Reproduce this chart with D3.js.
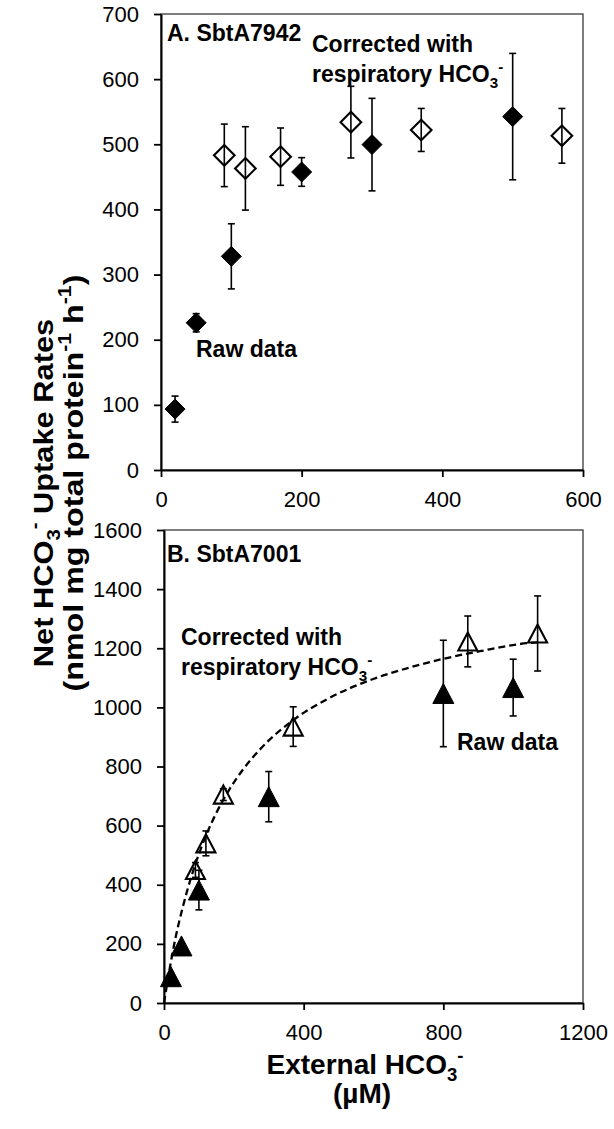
<!DOCTYPE html>
<html><head><meta charset="utf-8">
<script src="https://cdn.jsdelivr.net/npm/d3@7"></script>
<style>
body{margin:0;background:#fff}
svg{display:block}
text{font-family:"Liberation Sans",Arial,Helvetica,sans-serif;fill:#000}
</style>
</head><body>
<svg id="c" width="614" height="1129"></svg>
<script>
// ---------- DATA ----------
// Panel A: SbtA7942
const aRawX = [20, 50, 100, 200, 300, 500];
const aRawY = [93.5, 226, 328, 457.5, 499.5, 542.5];
const aRawErr = [20, 14, 50, 22, 71, 97];
const aCorX = [90, 120, 170, 270, 370, 570];
const aCorY = [483, 463, 481, 534, 522, 513];
const aCorErr = [48, 64, 44, 55, 33, 42];
const aXTicks = [0, 200, 400, 600];
const aYTicks = [0, 100, 200, 300, 400, 500, 600, 700];

// Panel B: SbtA7001
const bRawX = [20, 50, 100, 300, 800, 1000];
const bRawY = [89, 193, 382, 698, 1047, 1067];
const bRawErr = [8, 8, 67, 85, 180, 96];
const bCorX = [90, 120, 170, 370, 870, 1070];
const bCorY = [450, 540, 705, 935, 1223, 1250];
const bCorErr = [25, 42, 20, 67, 86, 127];
const bXTicks = [0, 400, 800, 1200];
const bYTicks = [0, 200, 400, 600, 800, 1000, 1200, 1400, 1600];
// dashed fit curve
const fitX = [0, 17, 32, 55, 79, 103, 127, 155, 184, 227, 275, 370, 466, 599, 704, 810, 905, 1039, 1070];
const fitY = [0, 121, 215, 330, 430, 514, 585, 655, 716, 791, 858, 957, 1027, 1096, 1135, 1167, 1190, 1217, 1220];

// ---------- DRAW ----------
const svg = d3.select("#c");
svg.append("rect").attr("width",614).attr("height",1129).attr("fill","#fff");

function rich(sel, parts, fs){
  // parts: [text, mode] mode: 0 normal, 1 sub, 2 sup
  let shift = 0;
  parts.forEach(([t, m]) => {
    const target = m===1 ? 0.25*fs : (m===2 ? -0.42*fs : 0);
    const ts = sel.append("tspan").text(t).attr("dy", target - shift);
    if (m) ts.attr("font-size", 0.66*fs);
    shift = target;
  });
}

function diamondPath(r){ return `M0,${-r}L${r},0L0,${r}L${-r},0Z`; }
function triPath(w,h){ return `M0,${-h/2}L${w/2},${h/2}L${-w/2},${h/2}Z`; }

function panel(cfg){
  const g = svg.append("g");
  const x = d3.scaleLinear().domain(cfg.xdom).range([cfg.left, cfg.right]);
  const y = d3.scaleLinear().domain(cfg.ydom).range([cfg.bottom, cfg.top]);
  g.append("rect").attr("x",cfg.left).attr("y",cfg.top)
    .attr("width",cfg.right-cfg.left).attr("height",cfg.bottom-cfg.top)
    .attr("fill","none").attr("stroke","#3a3a3a").attr("stroke-width",1.3);
  const ax = g.append("g").attr("transform",`translate(0,${cfg.bottom})`)
    .call(d3.axisBottom(x).tickValues(cfg.xticks).tickSize(7).tickSizeOuter(0).tickPadding(14).tickFormat(d3.format("d")));
  const ay = g.append("g").attr("transform",`translate(${cfg.left},0)`)
    .call(d3.axisLeft(y).tickValues(cfg.yticks).tickSize(7).tickSizeOuter(0).tickPadding(cfg.ypad).tickFormat(d3.format("d")));
  [ax, ay].forEach(a => {
    a.select(".domain").attr("stroke","#000").attr("stroke-width",2);
    a.selectAll(".tick line").attr("stroke","#000").attr("stroke-width",1.8);
    a.selectAll(".tick text").attr("font-size",22).attr("font-family",'"Liberation Sans",Arial,sans-serif').attr("fill","#000");
  });
  return {g, x, y};
}

function errorBars(p, xs, ys, es){
  const gg = p.g.append("g").attr("stroke","#000").attr("stroke-width",1.6);
  xs.forEach((xv,i) => {
    const cx = p.x(xv), t = p.y(ys[i]+es[i]), b = p.y(ys[i]-es[i]);
    gg.append("line").attr("x1",cx).attr("x2",cx).attr("y1",t).attr("y2",b);
    gg.append("line").attr("x1",cx-3.5).attr("x2",cx+3.5).attr("y1",t).attr("y2",t);
    gg.append("line").attr("x1",cx-3.5).attr("x2",cx+3.5).attr("y1",b).attr("y2",b);
  });
}

function markers(p, xs, ys, path, filled){
  p.g.append("g").selectAll("path").data(xs.map((v,i)=>[v,ys[i]])).join("path")
    .attr("d", path)
    .attr("transform", d => `translate(${p.x(d[0])},${p.y(d[1])})`)
    .attr("fill", filled ? "#000" : "none")
    .attr("stroke", "#000").attr("stroke-width", filled ? 1 : 2.1)
    .attr("stroke-linejoin","miter");
}

function label(g, x, y, parts, fs){
  const t = g.append("text").attr("x",x).attr("y",y).attr("font-size",fs).attr("font-weight","bold");
  rich(t, parts, fs);
  return t;
}

// ----- Panel A -----
const pA = panel({left:161, right:583, top:14, bottom:470, xdom:[0,600], ydom:[0,700],
  xticks:aXTicks, yticks:aYTicks, ypad:15});
errorBars(pA, aRawX, aRawY, aRawErr);
errorBars(pA, aCorX, aCorY, aCorErr);
markers(pA, aRawX, aRawY, diamondPath(10), true);
markers(pA, aCorX, aCorY, diamondPath(10.3), false);
label(pA.g, 167, 41, [["A. SbtA7942",0]], 23);
label(pA.g, 312, 52, [["Corrected with",0]], 23);
label(pA.g, 312, 82, [["respiratory HCO",0],["3",1],["-",2]], 23);
label(pA.g, 196, 357, [["Raw data",0]], 23);

// ----- Panel B -----
const pB = panel({left:164, right:583, top:530, bottom:1003, xdom:[0,1200], ydom:[0,1600],
  xticks:bXTicks, yticks:bYTicks, ypad:15});
const line = d3.line().x(d=>pB.x(d[0])).y(d=>pB.y(d[1])).curve(d3.curveMonotoneX);
pB.g.append("path").attr("d", line(fitX.map((v,i)=>[v,fitY[i]])))
  .attr("fill","none").attr("stroke","#000").attr("stroke-width",2.3).attr("stroke-dasharray","7,4");
errorBars(pB, bRawX, bRawY, bRawErr);
errorBars(pB, bCorX, bCorY, bCorErr);
markers(pB, bRawX, bRawY, triPath(21,20), true);
markers(pB, bCorX, bCorY, triPath(19,18), false);
label(pB.g, 167, 562, [["B. SbtA7001",0]], 23);
label(pB.g, 181, 645, [["Corrected with",0]], 23);
label(pB.g, 181, 675, [["respiratory HCO",0],["3",1],["-",2]], 23);
label(pB.g, 457, 750, [["Raw data",0]], 23);

// ----- Axis titles -----
const yt1 = svg.append("text").attr("text-anchor","middle").attr("font-size",28).attr("font-weight","bold")
  .attr("transform","translate(53,493) rotate(-90) scale(1.1,1)");
rich(yt1, [["Net HCO",0],["3",1],["-",2],[" Uptake Rates",0]], 28);
const yt2 = svg.append("text").attr("text-anchor","middle").attr("font-size",28).attr("font-weight","bold")
  .attr("transform","translate(83,483) rotate(-90) scale(1.15,1)");
rich(yt2, [["(nmol mg total protein",0],["-1",2],[" h",0],["-1",2],[")",0]], 28);

const xt1 = svg.append("text").attr("x",365).attr("y",1074).attr("text-anchor","middle")
  .attr("font-size",28).attr("font-weight","bold");
rich(xt1, [["External HCO",0],["3",1],["-",2]], 28);
svg.append("text").attr("x",362).attr("y",1103).attr("text-anchor","middle")
  .attr("font-size",28).attr("font-weight","bold").text("(µM)");
</script>
</body></html>
